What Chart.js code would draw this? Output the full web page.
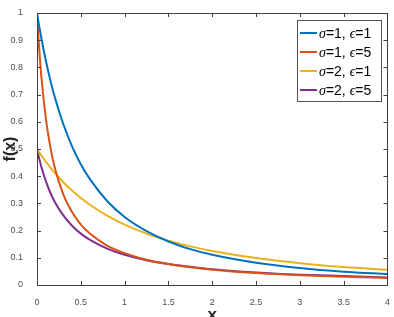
<!DOCTYPE html>
<html>
<head>
<meta charset="utf-8">
<script src="https://cdn.jsdelivr.net/npm/chart.js@4"></script>
<style>
  html, body { margin: 0; padding: 0; background: #fff; }
  #wrap { width: 394px; height: 317px; }
</style>
</head>
<body>
<div id="wrap"><canvas id="myChart" width="394" height="317"></canvas></div>
<script>
var xs = [0, 0.025, 0.05, 0.1, 0.15, 0.2, 0.3, 0.4, 0.5, 0.6, 0.8, 1, 1.25, 1.5, 1.75, 2, 2.5, 3, 3.5, 4];

var labels = ['σ=1, ϵ=1', 'σ=1, ϵ=5', 'σ=2, ϵ=1', 'σ=2, ϵ=5'];

var s1e1 = [1, 0.952, 0.907, 0.826, 0.756, 0.694, 0.592, 0.510, 0.444, 0.391, 0.309, 0.25, 0.198, 0.160, 0.132, 0.111, 0.082, 0.0625, 0.049, 0.040];
var s1e5 = [1, 0.868, 0.765, 0.615, 0.511, 0.435, 0.333, 0.268, 0.222, 0.190, 0.145, 0.117, 0.093, 0.077, 0.065, 0.056, 0.044, 0.036, 0.030, 0.026];
var s2e1 = [0.5, 0.488, 0.476, 0.454, 0.433, 0.413, 0.378, 0.347, 0.320, 0.296, 0.255, 0.222, 0.189, 0.163, 0.142, 0.125, 0.099, 0.080, 0.066, 0.056];
var s2e5 = [0.5, 0.465, 0.434, 0.383, 0.341, 0.307, 0.256, 0.218, 0.189, 0.167, 0.134, 0.111, 0.091, 0.077, 0.067, 0.058, 0.046, 0.038, 0.033, 0.028];

var xTicks = [0, 0.5, 1, 1.5, 2, 2.5, 3, 3.5, 4];
var yTicks = [0, 0.1, 0.2, 0.3, 0.4, 0.5, 0.6, 0.7, 0.8, 0.9, 1];

var colors = ['#0072BD', '#D95319', '#EDB120', '#7E2F8E'];
var series = [s1e1, s1e5, s2e1, s2e5];

function pts(ys) {
  return xs.map(function(x, i) { return { x: x, y: ys[i] }; });
}

function fmt(v) { return String(+Number(v).toFixed(2)); }

var axisColor = '#404040';
var sans = '"Liberation Sans", Arial, sans-serif';
var greek = 'italic 14px "Liberation Serif", "Times New Roman", serif';

// box, inward ticks and the legend, like the matlab figure
var boxPlugin = {
  id: 'box',
  afterDraw: function(chart) {
    var ctx = chart.ctx, a = chart.chartArea;
    var sx = chart.scales.x, sy = chart.scales.y;
    ctx.save();
    ctx.strokeStyle = axisColor;
    ctx.lineWidth = 1;
    ctx.strokeRect(Math.round(a.left) + 0.5, Math.round(a.top) + 0.5, Math.round(a.right - a.left), Math.round(a.bottom - a.top));
    ctx.beginPath();
    xTicks.forEach(function(v) {
      var px = Math.round(sx.getPixelForValue(v)) + 0.5;
      ctx.moveTo(px, a.bottom); ctx.lineTo(px, a.bottom - 4);
      ctx.moveTo(px, a.top); ctx.lineTo(px, a.top + 4);
    });
    yTicks.forEach(function(v) {
      var py = Math.round(sy.getPixelForValue(v)) + 0.5;
      ctx.moveTo(a.left, py); ctx.lineTo(a.left + 4, py);
      ctx.moveTo(a.right, py); ctx.lineTo(a.right - 4, py);
    });
    ctx.stroke();

    // legend
    var lx = 297, ly = 20, lw = 84, lh = 81;
    ctx.fillStyle = '#fff';
    ctx.fillRect(lx, ly, lw, lh);
    ctx.strokeStyle = '#555';
    ctx.strokeRect(lx + 0.5, ly + 0.5, lw, lh);
    ctx.textBaseline = 'middle';
    chart.data.datasets.forEach(function(ds, i) {
      var y = ly + 13 + i * 19;
      ctx.strokeStyle = ds.borderColor;
      ctx.lineWidth = 2;
      ctx.beginPath();
      ctx.moveTo(lx + 3, y); ctx.lineTo(lx + 20, y);
      ctx.stroke();
      ctx.fillStyle = '#000';
      // greek letters in italic, the rest upright
      var tx = lx + 22;
      ds.label.split(/([σϵ])/).forEach(function(part) {
        if (!part) return;
        ctx.font = (part === 'σ' || part === 'ϵ') ? greek : '14px ' + sans;
        ctx.fillText(part, tx, y + 1);
        tx += ctx.measureText(part).width;
      });
    });
    ctx.restore();
  }
};

var ctx = document.getElementById('myChart').getContext('2d');
var myChart = new Chart(ctx, {
  type: 'line',
  data: {
    datasets: series.map(function(ys, i) {
      return {
        label: labels[i],
        data: pts(ys),
        borderColor: colors[i],
        backgroundColor: colors[i],
        borderWidth: 2,
        pointRadius: 0,
        cubicInterpolationMode: 'monotone',
        fill: false
      };
    })
  },
  options: {
    responsive: false,
    animation: false,
    layout: { padding: { top: 13, right: 6, left: 0, bottom: 0 } },
    plugins: { legend: { display: false }, tooltip: { enabled: false } },
    scales: {
      x: {
        type: 'linear',
        min: 0, max: 4,
        afterFit: function(s) { s.height = 32; },
        afterBuildTicks: function(s) { s.ticks = xTicks.map(function(v) { return { value: v }; }); },
        grid: { display: false },
        border: { display: false },
        ticks: { color: '#4d4d4d', font: { size: 9, family: sans }, padding: 4, maxRotation: 0, callback: fmt },
        title: { display: true, text: 'x', color: '#262626', font: { size: 17, family: sans, weight: 'bold' }, padding: { top: 0, bottom: -9 } }
      },
      y: {
        type: 'linear',
        min: 0, max: 1,
        afterFit: function(s) { s.width = 37; },
        afterBuildTicks: function(s) { s.ticks = yTicks.map(function(v) { return { value: v }; }); },
        grid: { display: false },
        border: { display: false },
        ticks: { color: '#4d4d4d', font: { size: 9, family: sans }, padding: 6, callback: fmt },
        title: { display: true, text: 'f(x)', color: '#262626', font: { size: 16, family: sans, weight: 'bold' }, padding: { top: 1, bottom: 0 } }
      }
    }
  },
  plugins: [boxPlugin]
});
</script>
</body>
</html>
